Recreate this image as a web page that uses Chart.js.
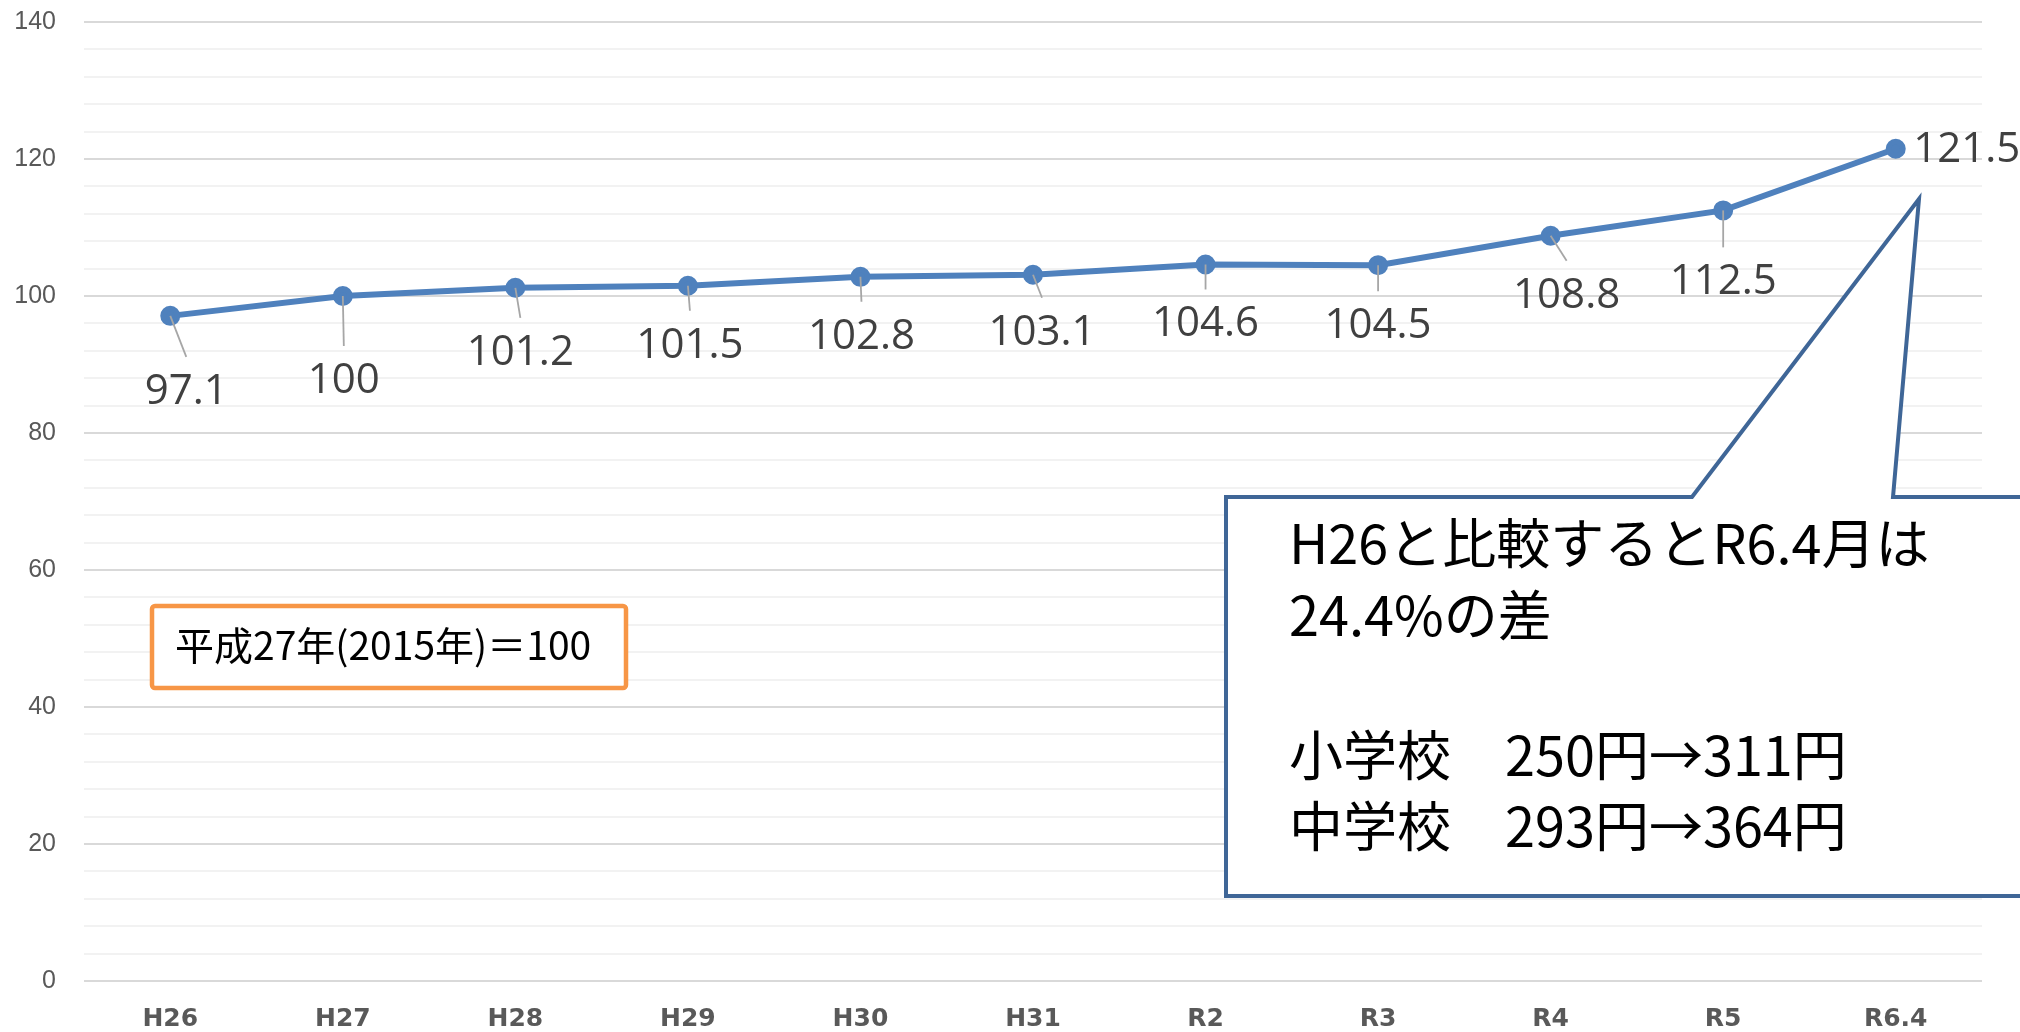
<!DOCTYPE html>
<html>
<head>
<meta charset="utf-8">
<script src="https://cdn.jsdelivr.net/npm/chart.js@4/dist/chart.umd.min.js"></script>
<style>
html,body{margin:0;padding:0;background:#fff;overflow:hidden;}
#wrap{position:relative;width:2020px;height:1032px;}
canvas{display:block;}
</style>
</head>
<body>
<div id="wrap"><canvas id="c" width="2020" height="1032"></canvas></div>
<script>
// ---- data ----
const categories = ['H26','H27','H28','H29','H30','H31','R2','R3','R4','R5','R6.4'];
const values = [97.1, 100, 101.2, 101.5, 102.8, 103.1, 104.6, 104.5, 108.8, 112.5, 121.5];
const yTickLabels = ['0','20','40','60','80','100','120','140'];
const baseNote = '平成27年(2015年)＝100';
const calloutLines = ['H26と比較するとR6.4月は', '24.4%の差', '', '小学校　250円→311円', '中学校　293円→364円'];

// ---- layout (label placement relative to each point, px) ----
const labelOffsets = [[16,76],[1,85],[5,65],[2,60],[1,60],[9,58],[0,60],[0,61],[16,60],[0,72],[71,1]];
const hasLeader = [true,true,true,true,true,true,true,true,true,true,false];

const labelPlugin = {
  id: 'labels',
  afterDatasetsDraw(chart) {
    const ctx = chart.ctx;
    const meta = chart.getDatasetMeta(0);
    ctx.save();
    meta.data.forEach((pt, i) => {
      const [dx, dy] = labelOffsets[i];
      const lx = pt.x + dx, ly = pt.y + dy;
      if (hasLeader[i]) {
        ctx.strokeStyle = '#a6a6a6';
        ctx.lineWidth = 1.8;
        ctx.beginPath();
        ctx.moveTo(pt.x, pt.y);
        ctx.lineTo(lx, ly - 35);
        ctx.stroke();
      }
    });
    meta.data.forEach((pt, i) => {
      const [dx, dy] = labelOffsets[i];
      ctx.fillStyle = '#404040';
      ctx.font = '42px "Open Sans", "Liberation Sans", sans-serif';
      ctx.textAlign = 'center';
      ctx.textBaseline = 'middle';
      ctx.fillText(String(values[i]), pt.x + dx, pt.y + dy);
    });
    ctx.restore();
  },
  afterDraw(chart) {
    const ctx = chart.ctx;
    ctx.save();
    // base note box
    ctx.fillStyle = '#ffffff';
    ctx.strokeStyle = '#f79646';
    ctx.lineWidth = 4.5;
    ctx.beginPath();
    ctx.roundRect(152, 606, 474, 82, 3);
    ctx.fill();
    ctx.stroke();
    ctx.fillStyle = '#000000';
    ctx.font = '39px "Noto Sans CJK JP", sans-serif';
    ctx.textAlign = 'left';
    ctx.textBaseline = 'middle';
    ctx.fillText(baseNote, 175, 645);

    // callout
    ctx.fillStyle = '#ffffff';
    ctx.strokeStyle = '#3f6697';
    ctx.lineWidth = 4;
    ctx.lineJoin = 'miter';
    ctx.beginPath();
    ctx.moveTo(1226, 497);
    ctx.lineTo(1692, 497);
    ctx.lineTo(1919, 199);
    ctx.lineTo(1893, 497);
    ctx.lineTo(2040, 497);
    ctx.lineTo(2040, 896);
    ctx.lineTo(1226, 896);
    ctx.closePath();
    ctx.fill();
    ctx.stroke();
    ctx.fillStyle = '#000000';
    ctx.font = '54px "Noto Sans CJK JP", sans-serif';
    const ys = [543, 615, 685, 755, 826];
    calloutLines.forEach((t, i) => { if (t) ctx.fillText(t, 1289, ys[i]); });
    ctx.restore();
  }
};

new Chart(document.getElementById('c'), {
  type: 'line',
  data: {
    labels: categories,
    datasets: [{
      data: values,
      borderColor: '#4f81bd',
      backgroundColor: '#4f81bd',
      borderWidth: 6,
      pointRadius: 7,
      pointBackgroundColor: '#4f81bd',
      pointBorderColor: '#4f81bd',
      tension: 0
    }]
  },
  options: {
    responsive: false,
    devicePixelRatio: 1,
    animation: false,
    layout: { padding: { top: 22, right: 38, left: 0, bottom: 0 } },
    plugins: { legend: { display: false }, tooltip: { enabled: false }, title: { display: false } },
    scales: {
      x: {
        offset: true,
        grid: { display: false },
        border: { display: false },
        ticks: {
          color: '#595959',
          font: { family: '"DejaVu Sans", sans-serif', size: 25, weight: 'bold' },
          padding: 15,
          maxRotation: 0,
          autoSkip: false
        },
        afterFit(s) { s.height = 51; s.paddingLeft = 0; s.paddingRight = 0; }
      },
      y: {
        min: 0,
        max: 140,
        border: { display: false },
        grid: {
          drawTicks: false,
          lineWidth: 2,
          color: (c) => (c.tick && c.tick.value % 20 === 0) ? '#d9d9d9' : '#f2f2f2'
        },
        ticks: {
          stepSize: 4,
          autoSkip: false,
          color: '#595959',
          font: { family: '"Liberation Sans", sans-serif', size: 25 },
          padding: 28,
          callback: (v) => (v % 20 === 0) ? yTickLabels[v / 20] : ''
        },
        afterFit(s) { s.width = 84; s.paddingTop = 0; s.paddingBottom = 0; }
      }
    }
  },
  plugins: [labelPlugin]
});
</script>
</body>
</html>
